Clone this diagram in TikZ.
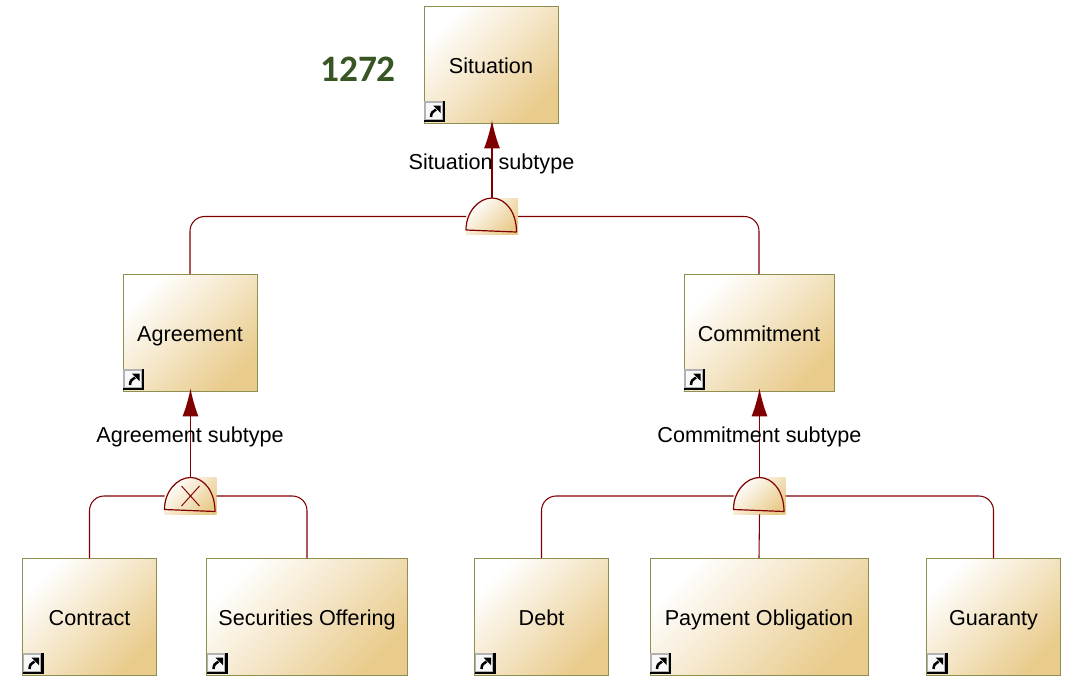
\documentclass[tikz,border=0pt]{standalone}
\usepackage{fontspec}
\setmainfont{Liberation Sans}
\newfontfamily\numfont{Carlito}
\usetikzlibrary{arrows.meta}
\definecolor{linkred}{HTML}{800000}
\definecolor{boxline}{HTML}{8F8F50}
\definecolor{boxtan}{HTML}{E9CB8C}
\definecolor{numgreen}{HTML}{375623}
\newcommand{\gatedome}[1]{
  \draw[linkred,line width=0.9pt,line join=round] ([shift={(-26,13.5)}]#1.center) .. controls ([shift={(-26,-5)}]#1.center) and ([shift={(-13,-18.5)}]#1.center) .. ([shift={(0,-18.5)}]#1.center) .. controls ([shift={(13,-18.5)}]#1.center) and ([shift={(24.5,-5)}]#1.center) .. ([shift={(24.5,15.5)}]#1.center) -- cycle;
}
\begin{document}
\begin{tikzpicture}[x=0.75pt,y=-0.75pt,
    concept/.style={draw=boxline,line width=0.7pt,top color=white,bottom color=boxtan,shading angle=45,
      minimum height=87.75pt,inner sep=0pt,outer sep=0pt,text height=12.8pt,text depth=0pt,font=\fontsize{16.2}{18}\selectfont},
    gatebox/.style={top color=white,bottom color=boxtan,shading angle=45,
      minimum width=39pt,minimum height=27.5pt,inner sep=0pt,outer sep=0pt},
    link/.style={draw=linkred,line width=0.8pt,rounded corners=11pt},
    subarrow/.style={draw=linkred,line width=1.1pt,shorten >=-2pt,-{Latex[length=21pt,width=12pt]}},
    sublabel/.style={font=\fontsize{16.2}{18}\selectfont,inner sep=0pt}]
  \useasboundingbox (0,0) rectangle (1076,678);

  \node[concept,minimum width=100.5pt] (situation) at (491,64.5) {Situation};
  \node[concept,minimum width=100.5pt] (agreement) at (190,332.5) {Agreement};
  \node[concept,minimum width=112.5pt] (commitment) at (759,332.5) {Commitment};
  \node[concept,minimum width=100.5pt] (contract) at (89.5,616.5) {Contract};
  \node[concept,minimum width=150.75pt] (securities) at (307,616.5) {Securities Offering};
  \node[concept,minimum width=100.5pt] (debt) at (541.5,616.5) {Debt};
  \node[concept,minimum width=163.5pt] (payment) at (759,616.5) {Payment Obligation};
  \node[concept,minimum width=100.5pt] (guaranty) at (993.5,616.5) {Guaranty};

  \node[gatebox] (situationgate) at (492,216.5) {};
  \node[gatebox] (agreementgate) at (190.5,496) {};
  \node[gatebox] (commitmentgate) at (759.5,496) {};

  \draw[link] (agreement.north) |- (situationgate.west);
  \draw[link] (commitment.north) |- (situationgate.east);
  \draw[link] (contract.north) |- (agreementgate.west);
  \draw[link] (securities.north) |- (agreementgate.east);
  \draw[link] (debt.north) |- (commitmentgate.west);
  \draw[link] (guaranty.north) |- (commitmentgate.east);
  \draw[link] (payment.north) -- (commitmentgate.south);

  \draw[subarrow] (situationgate.north) -- (situation.south -| situationgate.north);
  \draw[subarrow] (agreementgate.north) -- (agreement.south -| agreementgate.north);
  \draw[subarrow] (commitmentgate.north) -- (commitment.south -| commitmentgate.north);

  \gatedome{situationgate}
  \gatedome{agreementgate}
  \gatedome{commitmentgate}
  \draw[linkred,line width=0.7pt] ([shift={(-9,-10)}]agreementgate.center) -- ([shift={(9,10)}]agreementgate.center)
    ([shift={(9,-10)}]agreementgate.center) -- ([shift={(-9,10)}]agreementgate.center);

  \node[sublabel] (situationlabel) at (491.5,164) {Situation subtype};
  \node[sublabel] (agreementlabel) at (190,437) {Agreement subtype};
  \node[sublabel] (commitmentlabel) at (759.5,437) {Commitment subtype};

  \node[text=numgreen,inner sep=0pt,font=\numfont\bfseries\fontsize{28}{30}\selectfont] (number) at (358,69) {1272};

  \foreach \n in {situation,agreement,commitment,contract,securities,debt,payment,guaranty}{
    \begin{scope}[shift={(\n.south west)}]
      \fill[black] (0,-22) rectangle (21,-1);
      \fill[gray!60] (0,-22) rectangle (18.5,-3.5);
      \fill[white!95!gray] (1.5,-20.5) rectangle (17.5,-4.5);
      \draw[black,line width=1.9pt] (7,-6) .. controls (7,-10) and (9,-12) .. (12,-13.5);
      \fill[black] (9,-17.5) -- (16.5,-17.5) -- (16.5,-10) -- cycle;
    \end{scope}
  }
\end{tikzpicture}
\end{document}
